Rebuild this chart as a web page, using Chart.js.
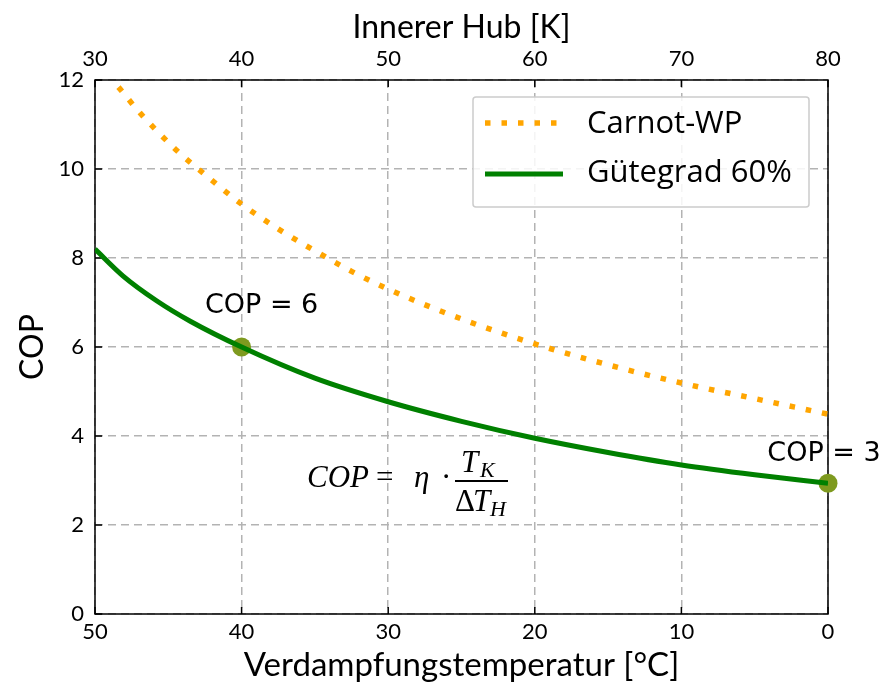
<!DOCTYPE html>
<html>
<head>
<meta charset="utf-8">
<script src="https://cdn.jsdelivr.net/npm/chart.js@4/dist/chart.umd.min.js"></script>
<style>
  html, body { margin: 0; padding: 0; background: #fff; }
  #wrap { width: 884px; height: 688px; }
</style>
</head>
<body>
<div id="wrap"><canvas id="copChart"></canvas></div>
<script>
// Innerer Hub [K] vs. COP
const hubCarnot = [31.6, 33.1, 35.5, 37.3, 40, 42.9, 45, 47.5, 50, 55, 60, 65, 70, 75, 80];
const copCarnot = [11.84, 11.25, 10.44, 9.93, 9.21, 8.57, 8.16, 7.70, 7.30, 6.63, 6.07, 5.60, 5.19, 4.84, 4.49];

const hubGuete = [30, 31.9, 34.2, 36.5, 40, 45, 50, 55, 60, 65, 70, 75, 80];
const copGuete = [8.2, 7.6, 7.04, 6.58, 6.0, 5.3, 4.77, 4.33, 3.95, 3.63, 3.35, 3.13, 2.94];

const markerHub = [40, 80];
const markerCop = [6, 2.94];
const markerText = ['COP = 6', 'COP = 3'];

const hubTicks = [30, 40, 50, 60, 70, 80];
const tempTicks = [50, 40, 30, 20, 10, 0];
const copTicks = [0, 2, 4, 6, 8, 10, 12];

const seriesLabels = ['Carnot-WP', 'Gütegrad 60%'];

const ORANGE = '#FFA500';
const GREEN = '#008000';
const OLIVE = '#7E9A1F';
const GRID = '#b3b3b3';

const toXY = (xs, ys) => xs.map((x, i) => ({x: x, y: ys[i]}));

// box, inward ticks, legend, annotations
const decorations = {
    id: 'decorations',
    beforeDatasetsDraw(chart) {
        const {ctx, chartArea: a, scales} = chart;
        ctx.save();
        ctx.strokeStyle = '#000';
        ctx.lineWidth = 1.5;
        ctx.strokeRect(a.left, a.top, a.right - a.left, a.bottom - a.top);
        // inward ticks
        const tl = 7;
        ctx.beginPath();
        hubTicks.forEach(v => {
            const px = scales.x.getPixelForValue(v);
            ctx.moveTo(px, a.top); ctx.lineTo(px, a.top + tl);
        });
        tempTicks.forEach(v => {
            const px = scales.xb.getPixelForValue(v);
            ctx.moveTo(px, a.bottom); ctx.lineTo(px, a.bottom - tl);
        });
        copTicks.forEach(v => {
            const py = scales.y.getPixelForValue(v);
            ctx.moveTo(a.left, py); ctx.lineTo(a.left + tl, py);
        });
        ctx.stroke();
        ctx.restore();
    },
    afterDraw(chart) {
        const {ctx, scales} = chart;
        ctx.save();

        // legend
        const lx = 473, ly = 97, lw = 336, lh = 110;
        ctx.fillStyle = 'rgba(255,255,255,0.85)';
        ctx.strokeStyle = '#cccccc';
        ctx.lineWidth = 1.5;
        ctx.beginPath();
        ctx.roundRect(lx, ly, lw, lh, 3);
        ctx.fill();
        ctx.stroke();

        ctx.lineWidth = 5.5;
        ctx.strokeStyle = ORANGE;
        ctx.setLineDash([5.5, 11]);
        ctx.beginPath(); ctx.moveTo(485, 123); ctx.lineTo(565, 123); ctx.stroke();
        ctx.setLineDash([]);
        ctx.lineWidth = 5;
        ctx.strokeStyle = GREEN;
        ctx.beginPath(); ctx.moveTo(485, 174); ctx.lineTo(563, 174); ctx.stroke();

        ctx.fillStyle = '#000';
        ctx.font = '31px "Open Sans"';
        ctx.textAlign = 'left';
        ctx.textBaseline = 'middle';
        ctx.fillText(seriesLabels[0], 587, 124);
        ctx.fillText(seriesLabels[1], 587, 173);

        // marker labels
        ctx.font = '27px "DejaVu Sans"';
        ctx.textAlign = 'center';
        const p0x = scales.x.getPixelForValue(markerHub[0]);
        const p0y = scales.y.getPixelForValue(markerCop[0]);
        ctx.fillText(markerText[0], p0x + 20, p0y - 41);
        const p1x = scales.x.getPixelForValue(markerHub[1]);
        const p1y = scales.y.getPixelForValue(markerCop[1]);
        ctx.fillText(markerText[1], p1x - 4, p1y - 29);

        // formula
        ctx.textAlign = 'left';
        ctx.textBaseline = 'alphabetic';
        const it = 'italic 31px "Liberation Serif"';
        const up = '31px "Liberation Serif"';
        const sub = 'italic 22px "Liberation Serif"';
        ctx.font = it; ctx.fillText('COP', 307, 487);
        ctx.font = up; ctx.fillText('=', 376, 487);
        ctx.font = it; ctx.fillText('η', 414, 487);
        ctx.font = up; ctx.fillText('·', 441, 487);
        ctx.fillRect(455, 480, 53, 2);
        ctx.font = it; ctx.fillText('T', 461, 472);
        ctx.font = sub; ctx.fillText('K', 480, 477);
        ctx.font = up; ctx.fillText('Δ', 455, 511);
        ctx.font = it; ctx.fillText('T', 473, 511);
        ctx.font = sub; ctx.fillText('H', 490, 516);

        ctx.restore();
    }
};

new Chart(document.getElementById('copChart'), {
    type: 'line',
    data: {
        datasets: [
            {
                label: seriesLabels[0],
                data: toXY(hubCarnot, copCarnot),
                borderColor: ORANGE,
                borderWidth: 5.5,
                borderDash: [5.5, 11],
                pointRadius: 0,
                cubicInterpolationMode: 'monotone',
                xAxisID: 'x'
            },
            {
                label: seriesLabels[1],
                data: toXY(hubGuete, copGuete),
                borderColor: GREEN,
                borderWidth: 5,
                pointRadius: 0,
                cubicInterpolationMode: 'monotone',
                xAxisID: 'x'
            },
            {
                label: 'marker',
                data: toXY(markerHub, markerCop),
                showLine: false,
                pointRadius: 9.5,
                pointBackgroundColor: OLIVE,
                pointBorderWidth: 0,
                clip: false,
                xAxisID: 'x'
            }
        ]
    },
    options: {
        responsive: true,
        maintainAspectRatio: false,
        animation: false,
        layout: { padding: { right: 56 } },
        scales: {
            x: {
                type: 'linear',
                position: 'top',
                min: 30,
                max: 80,
                afterBuildTicks: s => { s.ticks = hubTicks.map(v => ({value: v})); },
                afterFit: s => { s.height = 80; },
                ticks: { color: '#000', font: { family: 'Lato', size: 22 }, padding: 8 },
                grid: { color: GRID, lineWidth: 1.5, drawTicks: false },
                border: { display: false, dash: [8, 5] },
                title: {
                    display: true,
                    text: 'Innerer Hub [K]',
                    color: '#000',
                    font: { family: 'Lato', size: 32 },
                    padding: { top: 8 }
                }
            },
            xb: {
                type: 'linear',
                position: 'bottom',
                min: 0,
                max: 50,
                reverse: true,
                afterBuildTicks: s => { s.ticks = tempTicks.map(v => ({value: v})); },
                afterFit: s => { s.height = 74; },
                ticks: { color: '#000', font: { family: 'Lato', size: 22 }, padding: 5 },
                grid: { display: false, drawTicks: false },
                border: { display: false },
                title: {
                    display: true,
                    text: 'Verdampfungstemperatur [°C]',
                    color: '#000',
                    font: { family: 'Lato', size: 33 },
                    padding: { bottom: 3 }
                }
            },
            y: {
                min: 0,
                max: 12,
                afterBuildTicks: s => { s.ticks = copTicks.map(v => ({value: v})); },
                afterFit: s => { s.width = 95; },
                ticks: { color: '#000', font: { family: 'Lato', size: 22 }, padding: 11 },
                grid: { color: GRID, lineWidth: 1.5, drawTicks: false },
                border: { display: false, dash: [8, 5] },
                title: {
                    display: true,
                    text: 'COP',
                    color: '#000',
                    font: { family: 'Lato', size: 32 },
                    padding: { top: 13 }
                }
            }
        },
        plugins: {
            legend: { display: false },
            tooltip: { enabled: false }
        }
    },
    plugins: [decorations]
});
</script>
</body>
</html>
